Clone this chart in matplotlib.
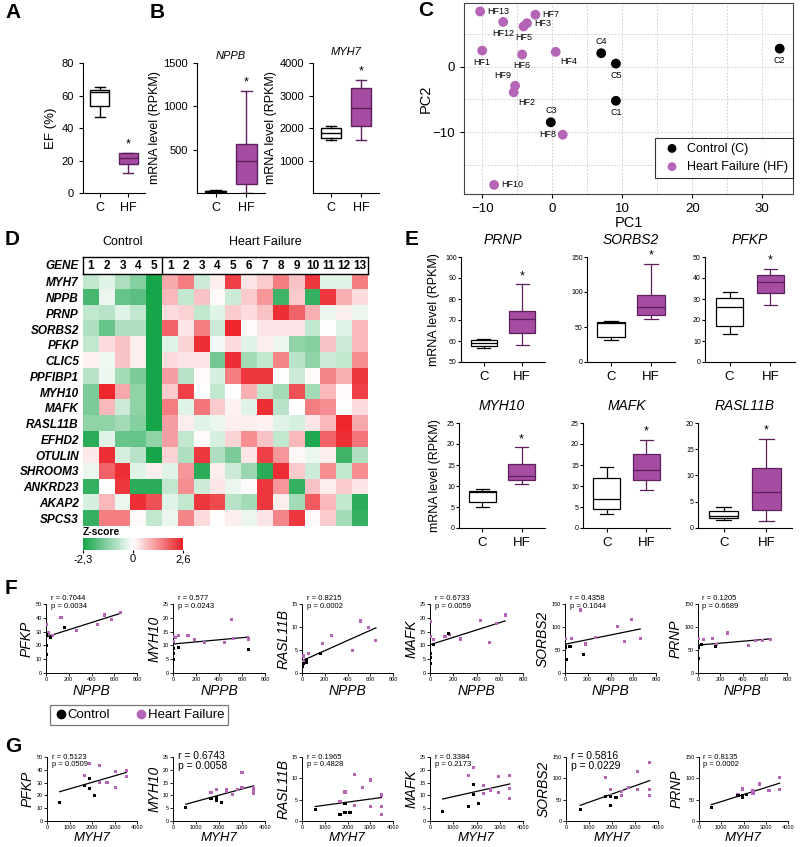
import matplotlib
matplotlib.use("Agg")
import matplotlib.pyplot as plt
import numpy as np
from matplotlib.colors import LinearSegmentedColormap, TwoSlopeNorm
from matplotlib.lines import Line2D

plt.rcParams['font.family'] = ['Liberation Sans', 'DejaVu Sans']

# ---------------- data ----------------
# box stats: whislo, q1, median, q3, whishi
ef_c = [47, 53.8, 62, 63.5, 65]
ef_hf = [12.6, 18.1, 21.3, 24.7, 24.7]
nppb_c = [3, 8, 18, 25, 38]
nppb_hf = [5, 100, 365, 562, 1177]
myh7_c = [1617, 1700, 1853, 1996, 2057]
myh7_hf = [1617, 2057, 2610, 3224, 3490]

e_genes = ['PRNP', 'SORBS2', 'PFKP', 'MYH10', 'MAFK', 'RASL11B']
e_ctrl = [[56.5, 57.5, 59, 60.5, 61], [31, 35.5, 56, 57.5, 58], [13.5, 17, 26, 30.5, 33.5],
          [5, 6.2, 8.5, 8.9, 9.3], [3.4, 4.5, 6.8, 12, 14.5], [1.5, 1.9, 2.2, 3.3, 4]]
e_hf = [[58, 64, 70.5, 74.5, 87], [62, 67, 78, 95, 140], [27, 33, 38, 41.5, 44.5],
        [10.5, 11.4, 12.5, 15.2, 19.2], [9, 11.5, 13.8, 17.6, 21], [1.4, 3.5, 6.8, 11.5, 17]]
e_ylim = [(50, 100), (0, 150), (0, 50), (0, 25), (0, 25), (0, 20)]
e_ystep = [10, 50, 10, 5, 5, 5]

# PCA
pc_names = ['C1', 'C2', 'C3', 'C4', 'C5',
            'HF1', 'HF2', 'HF3', 'HF4', 'HF5', 'HF6', 'HF7', 'HF8', 'HF9', 'HF10', 'HF12', 'HF13']
pc1 = [9.1, 32.5, -0.2, 7.0, 9.1,
       -10.0, -5.5, -3.6, 0.5, -4.1, -4.3, -2.4, 1.5, -5.3, -8.3, -7.0, -10.3]
pc2 = [-5.2, 2.8, -8.5, 2.1, 0.5,
       2.5, -3.9, 6.7, 2.3, 6.2, 1.9, 8.0, -10.4, -2.9, -18.1, 6.9, 8.5]
pc_group = ['C'] * 5 + ['HF'] * 12

# heatmap
heat_genes = ['MYH7', 'NPPB', 'PRNP', 'SORBS2', 'PFKP', 'CLIC5', 'PPFIBP1', 'MYH10',
              'MAFK', 'RASL11B', 'EFHD2', 'OTULIN', 'SHROOM3', 'ANKRD23', 'AKAP2', 'SPCS3']
heat_cols = ['1', '2', '3', '4', '5'] + [str(i) for i in range(1, 14)]
heat_z = [
    [-0.6, -0.3, -0.8, -1.2, -2.3, 1.0, 1.5, -0.5, 0.2, 2.2, 0.3, 0.6, 1.5, 0.7, 2.3, -0.3, -0.3, 1.5],
    [-1.8, -0.2, -1.5, -1.6, -2.3, 0.8, -0.6, 0.7, 0.05, -0.5, 0.6, 1.2, -1.9, 0.6, -2.0, 2.3, 0.9, 0.4],
    [-0.6, -0.7, -0.3, -0.6, -2.3, 0.4, 0.5, -0.6, -0.3, 0.6, 0.4, 0.7, 2.4, 1.8, 0.9, -0.2, 0.2, -0.2],
    [-0.8, -1.5, -0.8, -0.8, -2.3, 1.8, 0.3, 1.5, -0.5, 2.5, 0.05, 0.3, 0.3, 0.3, -0.6, 0.0, -0.3, 0.8],
    [-0.6, 0.4, 0.7, 0.2, -2.3, -0.3, 0.5, 2.4, -0.1, 0.4, -0.3, 0.2, -0.2, -1.1, -1.2, 0.7, -0.5, 0.8],
    [0.15, -0.15, 0.7, 0.2, -2.3, 0.4, 0.3, 0.3, -1.4, 2.4, -0.9, -0.6, 1.4, -0.7, -1.1, -0.5, -0.6, 1.3],
    [-0.7, -0.2, -0.9, -1.3, -2.3, 1.1, -0.7, 0.05, -0.4, 1.5, 2.3, 2.3, 0.0, -0.5, 0.05, 1.4, 0.9, 2.3],
    [-1.3, 2.5, 1.0, -1.1, -2.3, 0.6, 2.2, 0.0, -0.6, 0.0, 0.9, -0.6, -0.9, 2.0, -0.9, 0.8, 0.05, 2.2],
    [-1.3, 0.8, -0.5, -1.1, -2.3, 1.5, -0.3, 1.6, 0.6, 0.15, -0.3, 2.4, -0.7, 0.0, 1.5, 1.3, 0.0, 0.4],
    [-1.1, -1.1, -0.9, -1.2, -2.3, 1.1, 0.2, -0.3, -0.2, 0.2, 0.2, 0.15, -0.3, -0.4, 0.3, 0.8, 2.5, 1.0],
    [-2.1, -0.3, -1.5, -1.5, -1.1, 1.1, -0.6, 0.05, -0.4, 0.5, 1.3, 0.7, -0.6, 0.8, -2.2, 1.8, 2.4, 1.6],
    [0.25, 2.4, -0.4, -0.7, -2.3, 0.5, -0.8, 2.3, -0.8, -1.3, 0.3, 2.2, 1.2, 0.1, -0.2, 0.2, -1.9, -0.8],
    [-0.2, 1.8, 2.4, -0.3, 0.2, -0.3, 1.2, -2.1, 0.2, -0.5, -1.0, -2.1, 2.4, 0.6, -0.5, 1.3, -0.6, 1.3],
    [-2.0, 0.0, 2.3, -2.1, -2.1, -0.6, 1.3, -0.5, 0.3, -0.2, 0.05, 2.3, 1.2, -2.0, 0.7, 0.2, 0.6, 0.3],
    [-0.4, 0.8, -0.2, 2.4, 2.0, -0.3, -0.6, 2.3, 2.1, -0.7, -0.9, 2.3, 0.2, -0.9, 1.9, 0.8, -0.6, -2.1],
    [-2.0, 1.5, 1.5, 0.05, -0.6, -0.2, 1.4, 0.4, 0.0, 0.2, -0.2, 0.3, 1.4, 2.3, 0.05, 0.6, -0.9, -2.0],
]

# correlation scatter, (NPPB, gene) and (MYH7, gene)
pfkp_nppb_c = [(0, 27.5), (41, 26), (5, 20), (5, 13.5), (161, 33)]
pfkp_nppb_hf = [(5, 35), (55, 27), (132, 40), (270, 31), (451, 35), (518, 42), (577, 38.5), (656, 44), (20, 29)]
myh10_nppb_c = [(0, 8.8), (5, 7.0), (5, 5.0), (49, 9.4), (656, 8.5)]
myh10_nppb_hf = [(6, 13.3), (49, 13.5), (130, 13.5), (6, 11.4), (188, 12.0), (272, 11.0), (450, 11.0),
                 (526, 12.5), (656, 12.3), (505, 19.5), (20, 12.8)]
rasl_nppb_c = [(9, 2.1), (38, 3.0), (160, 4.3), (38, 2.2), (5, 1.5)]
rasl_nppb_hf = [(10, 3.7), (15, 2.4), (58, 4.2), (183, 6.5), (262, 8.1), (445, 4.9), (515, 11.3),
                (581, 9.8), (650, 7.1), (5, 1.4)]
mafk_nppb_c = [(5, 3.6), (5, 5.5), (5, 7.2), (29, 10.2), (160, 14.3)]
mafk_nppb_hf = [(6, 18.7), (29, 12.1), (129, 13.1), (171, 14.0), (266, 12.3), (437, 19.0), (509, 11.0),
                (571, 18.0), (646, 21.0), (6, 13.3)]
sorbs2_nppb_c = [(6, 57.6), (6, 55), (15, 30.3), (44, 57.6), (163, 40.2)]
sorbs2_nppb_hf = [(6, 75.8), (59, 75.8), (133, 137), (178, 63), (267, 78), (459, 101), (524, 68),
                  (587, 116), (661, 75.8)]
prnp_nppb_c = [(0, 58.5), (6, 32.3), (30, 62.3), (157, 57), (6, 56)]
prnp_nppb_hf = [(6, 75), (50, 72), (133, 75), (267, 87), (453, 60), (519, 71.3), (578, 71.3),
                (652, 73.5), (170, 62)]

pfkp_myh7_c = [(560, 14.6), (1671, 28), (1893, 33), (1893, 25.4), (2102, 19.9)]
pfkp_myh7_hf = [(1671, 35.2), (1893, 44.7), (2338, 43.2), (2338, 30), (2667, 30), (3036, 38.8),
                (3036, 26.3), (3524, 39.4), (3524, 35.1)]
myh10_myh7_c = [(560, 5.2), (1650, 8.8), (1890, 9.1), (1890, 8.2), (2100, 7.3)]
myh10_myh7_hf = [(1650, 11.0), (1890, 12.3), (2330, 11.7), (2330, 12.3), (2600, 10.5), (3000, 18.9),
                 (3000, 13.1), (3500, 13.0), (3500, 11.7), (3500, 10.8), (2800, 12.3)]
rasl_myh7_c = [(581, 2.7), (1671, 1.55), (1890, 4.1), (1890, 2.0), (2108, 2.0)]
rasl_myh7_hf = [(1671, 4.5), (1890, 6.8), (2326, 10.9), (2326, 3.7), (2660, 7.8), (3009, 9.6),
                (3009, 3.5), (3488, 6.1), (3488, 3.5), (3488, 1.55)]
mafk_myh7_c = [(543, 3.6), (1643, 5.5), (1857, 14.2), (1857, 10.2), (2071, 6.8)]
mafk_myh7_hf = [(1643, 17.6), (1857, 20.8), (2286, 14.0), (2286, 10.6), (2600, 12.1), (2957, 17.3),
                (2957, 11.2), (3430, 17.6), (3430, 12.8), (3430, 8.9)]
sorbs2_myh7_c = [(619, 28), (1727, 56.7), (1942, 56.7), (1942, 37.3), (2173, 54.4)]
sorbs2_myh7_hf = [(1727, 101), (1942, 74.6), (1942, 60.6), (2417, 68.4), (2417, 60.6), (2705, 77.7),
                  (3094, 116.6), (3094, 74.6), (3640, 136.8), (3640, 74.6), (3640, 60.6)]
prnp_myh7_c = [(554, 31.6), (1946, 59.2), (1946, 55.2), (2126, 61.6), (1751, 59.2)]
prnp_myh7_hf = [(1751, 61.6), (1946, 75), (2425, 71), (2425, 64), (2725, 86.8), (3144, 71),
                (3623, 101), (3623, 73.4)]

corr_genes = ['PFKP', 'MYH10', 'RASL11B', 'MAFK', 'SORBS2', 'PRNP']
corr_ymax = [50, 25, 15, 25, 150, 150]
corr_ystep = [10, 5, 5, 5, 50, 50]
f_data = [(pfkp_nppb_c, pfkp_nppb_hf), (myh10_nppb_c, myh10_nppb_hf), (rasl_nppb_c, rasl_nppb_hf),
          (mafk_nppb_c, mafk_nppb_hf), (sorbs2_nppb_c, sorbs2_nppb_hf), (prnp_nppb_c, prnp_nppb_hf)]
g_data = [(pfkp_myh7_c, pfkp_myh7_hf), (myh10_myh7_c, myh10_myh7_hf), (rasl_myh7_c, rasl_myh7_hf),
          (mafk_myh7_c, mafk_myh7_hf), (sorbs2_myh7_c, sorbs2_myh7_hf), (prnp_myh7_c, prnp_myh7_hf)]
f_stats = ['r = 0.7044\np = 0.0034', 'r = 0.577\np = 0.0243', 'r = 0.8215\np = 0.0002',
           'r = 0.6733\np = 0.0059', 'r = 0.4358\np = 0.1044', 'r = 0.1205\np = 0.6689']
g_stats = ['r = 0.5123\np = 0.0509', 'r = 0.6743\np = 0.0058', 'r = 0.1965\np = 0.4828',
           'r = 0.3384\np = 0.2173', 'r = 0.5816\np = 0.0229', 'r = 0.8135\np = 0.0002']

# ---------------- figure ----------------
W, H = 800, 847
fig = plt.figure(figsize=(8, 8.47), dpi=100)

PURPLE = '#a64ca2'
PEDGE = '#5e205c'
DOT = '#b565b5'


def px_axes(x0, y0, x1, y1):
    return fig.add_axes([x0 / W, 1 - y1 / H, (x1 - x0) / W, (y1 - y0) / H])


def letter(x, y, s):
    fig.text(x / W, 1 - y / H, s, fontsize=15, fontweight='bold', va='center', ha='left')


def gp_style(ax, fs=8):
    ax.spines['top'].set_visible(False)
    ax.spines['right'].set_visible(False)
    ax.tick_params(direction='out', length=3, width=0.8, labelsize=fs)


def box_panel(ax, c, hf, ylim, yticks, tick_fs=8, lab_fs=9, star_fs=9, lw=1.0):
    stats = []
    for s in (c, hf):
        stats.append(dict(whislo=s[0], q1=s[1], med=s[2], q3=s[3], whishi=s[4], fliers=[]))
    art = ax.bxp(stats, positions=[1, 2], widths=0.68, patch_artist=True, showfliers=False,
                 capwidths=0.34,
                 boxprops=dict(linewidth=lw), whiskerprops=dict(linewidth=lw),
                 capprops=dict(linewidth=lw), medianprops=dict(linewidth=lw, color='black'))
    art['boxes'][0].set_facecolor('white')
    art['boxes'][0].set_edgecolor('black')
    art['boxes'][1].set_facecolor(PURPLE)
    art['boxes'][1].set_edgecolor(PEDGE)
    for k in ('whiskers', 'caps'):
        for ln in art[k][2:]:
            ln.set_color(PEDGE)
    art['medians'][1].set_color(PEDGE)
    ax.set_xlim(0.4, 2.6)
    ax.set_ylim(*ylim)
    ax.set_yticks(yticks)
    ax.set_xticks([1, 2])
    ax.set_xticklabels(['C', 'HF'], fontsize=lab_fs)
    gp_style(ax, tick_fs)
    ax.tick_params(axis='x', labelsize=lab_fs, length=3)
    span = ylim[1] - ylim[0]
    ax.text(2, hf[4] + 0.02 * span, '*', ha='center', va='bottom', fontsize=star_fs)


# ---- A ----
letter(5, 13, 'A')
axA = px_axes(83, 63, 145, 193)
box_panel(axA, ef_c, ef_hf, (0, 80), [0, 20, 40, 60, 80])
axA.set_ylabel('EF (%)', fontsize=9.5, labelpad=3)

# ---- B ----
letter(150, 13, 'B')
axB1 = px_axes(197, 63, 265, 193)
box_panel(axB1, nppb_c, nppb_hf, (0, 1500), [500, 1000, 1500])
axB1.set_ylabel('mRNA level (RPKM)', fontsize=9, labelpad=2)
axB1.set_title('NPPB', fontsize=8, style='italic', pad=3)
axB2 = px_axes(313, 63, 379, 193)
box_panel(axB2, myh7_c, myh7_hf, (0, 4000), [1000, 2000, 3000, 4000])
axB2.set_ylabel('mRNA level (RPKM)', fontsize=9, labelpad=2)
axB2.set_title('MYH7', fontsize=8, style='italic', pad=6)

# ---- C ----
letter(418, 11, 'C')
axC = px_axes(464, 3, 793, 194)
for g, col, lab in (('C', 'black', 'Control (C)'), ('HF', DOT, 'Heart Failure (HF)')):
    xs = [x for x, gg in zip(pc1, pc_group) if gg == g]
    ys = [y for y, gg in zip(pc2, pc_group) if gg == g]
    axC.scatter(xs, ys, s=50, color=col, zorder=3, label=lab, edgecolors='none')
label_place = {'below': ((0, -5), 'center', 'top'), 'above': ((0, 5), 'center', 'bottom'),
               'right': ((5, 0), 'left', 'center'), 'left': ((-5, 0), 'right', 'center'),
               'belowright': ((3, -4), 'left', 'top'), 'aboveleft': ((-3, 4), 'right', 'bottom')}
pc_place = ['below', 'below', 'above', 'above', 'below',
            'below', 'belowright', 'right', 'belowright', 'below', 'below', 'right', 'left',
            'aboveleft', 'right', 'below', 'right']
for n, x, y, p in zip(pc_names, pc1, pc2, pc_place):
    off, ha, va = label_place[p]
    axC.annotate(n, (x, y), xytext=off, textcoords='offset points', ha=ha, va=va, fontsize=6.5)
axC.set_xlim(-12.6, 34.4)
axC.set_ylim(-19.5, 9.8)
axC.set_xticks([-10, 0, 10, 20, 30])
axC.set_yticks([0, -10])
axC.set_xticks(np.arange(-10, 35, 5), minor=True)
axC.set_yticks(np.arange(-15, 10, 5), minor=True)
axC.grid(which='both', linestyle=(0, (2, 2)), color='#c8c8c8', linewidth=0.6)
axC.set_axisbelow(True)
axC.tick_params(which='minor', length=0)
axC.tick_params(which='major', length=3, labelsize=9.5)
for sp in axC.spines.values():
    sp.set_color('#444444')
axC.set_xlabel('PC1', fontsize=10.5, labelpad=1)
axC.set_ylabel('PC2', fontsize=10.5, labelpad=0)
legC = axC.legend(loc='lower right', bbox_to_anchor=(1.0, 0.084), borderaxespad=0, fontsize=9,
                  frameon=True, fancybox=False, edgecolor='black', handletextpad=0.2,
                  borderpad=0.4, labelspacing=0.5, markerscale=0.9)
legC.get_frame().set_linewidth(0.8)

# ---- D ----
letter(5, 239, 'D')
axD = px_axes(83, 274, 368, 526)
cmap = LinearSegmentedColormap.from_list('gwr', ['#17a54a', '#ffffff', '#ec1f26'])
norm = TwoSlopeNorm(vmin=-2.3, vcenter=0, vmax=2.6)
im = axD.imshow(np.array(heat_z), cmap=cmap, norm=norm, aspect='auto', interpolation='nearest')
axD.set_yticks(range(len(heat_genes)))
axD.set_yticklabels(heat_genes, fontsize=8.5, fontweight='bold', style='italic')
axD.set_xticks([])
axD.tick_params(length=0, pad=3)
for sp in axD.spines.values():
    sp.set_visible(False)
for i, c in enumerate(heat_cols):
    axD.text(i, -1.0, c, ha='center', va='center', fontsize=8.5, fontweight='bold', clip_on=False)
axD.text(-0.75, -1.0, 'GENE', ha='right', va='center', fontsize=8.5, fontweight='bold',
         style='italic', clip_on=False)
axD.plot([-0.5, 17.5], [-1.55, -1.55], color='black', lw=1, clip_on=False)
axD.plot([-0.5, 17.5], [-0.5, -0.5], color='black', lw=1, clip_on=False)
for xv in (-0.5, 4.5, 17.5):
    axD.plot([xv, xv], [-1.55, -0.5], color='black', lw=1, clip_on=False)
axD.text(2, -2.15, 'Control', ha='center', va='bottom', fontsize=9, clip_on=False)
axD.text(11, -2.15, 'Heart Failure', ha='center', va='bottom', fontsize=9, clip_on=False)
axD.set_ylim(len(heat_genes) - 0.5, -0.5)

cax = px_axes(83, 538, 183, 550)
cb = fig.colorbar(im, cax=cax, orientation='horizontal')
cb.set_ticks([-2.3, 0, 2.6])
cb.set_ticklabels(['-2,3', '0', '2,6'])
cb.ax.tick_params(labelsize=8, length=2, pad=1)
cb.outline.set_visible(False)
fig.text(83 / W, 1 - 532 / H, 'Z-score', fontsize=7.5, fontweight='bold', va='center', ha='left')

# ---- E ----
letter(405, 239, 'E')
e_boxes = [(461, 257, 545, 362), (587, 257, 675, 362), (705, 257, 795, 362),
           (459, 423, 545, 528), (583, 423, 670, 528), (698, 423, 792, 528)]
for k, (g, bb) in enumerate(zip(e_genes, e_boxes)):
    ax = px_axes(*bb)
    lo, hi = e_ylim[k]
    box_panel(ax, e_ctrl[k], e_hf[k], e_ylim[k], np.arange(lo, hi + 0.1, e_ystep[k]),
              tick_fs=5, lab_fs=9.5, star_fs=9, lw=0.9)
    ax.set_title(g, fontsize=10, style='italic', pad=9)
    ax.tick_params(axis='y', length=2, pad=1)
    if k in (0, 3):
        ax.set_ylabel('mRNA level (RPKM)', fontsize=9, labelpad=4)

# ---- F & G ----
letter(5, 589, 'F')
letter(5, 746, 'G')
f_boxes = [(46, 604, 137), (173, 604, 265), (302, 604, 393), (430, 604, 523), (565, 604, 656), (698, 604, 787)]
g_boxes = [(47, 757, 137), (173, 757, 265), (302, 757, 393), (430, 757, 523), (566, 757, 658), (699, 757, 788)]
big_stats = [1, 4]


def corr_panel(ax, ctrl, hf, xmax, xstep, gene, xlab, ymax, ystep, stat, stat_fs, stat_y, xfs=10):
    cx, cy = zip(*ctrl)
    hx, hy = zip(*hf)
    ax.scatter(hx, hy, s=5, marker='s', color=DOT, edgecolors='none', zorder=3)
    ax.scatter(cx, cy, s=5, marker='s', color='black', edgecolors='none', zorder=3)
    allx = np.array(cx + hx, dtype=float)
    ally = np.array(cy + hy, dtype=float)
    m, b = np.polyfit(allx, ally, 1)
    xx = np.array([allx.min(), allx.max()])
    ax.plot(xx, m * xx + b, color='black', lw=0.9)
    ax.set_xlim(0, xmax)
    ax.set_ylim(0, ymax)
    ax.set_xticks(np.arange(0, xmax + 1, xstep))
    ax.set_yticks(np.arange(0, ymax + 0.1, ystep))
    gp_style(ax, 4)
    ax.tick_params(length=2, width=0.6, pad=1)
    for sp in ('left', 'bottom'):
        ax.spines[sp].set_linewidth(0.7)
    ax.set_ylabel(gene, fontsize=10, style='italic', labelpad=1)
    ax.set_xlabel(xlab, fontsize=xfs, style='italic', labelpad=1)
    ax.text(0.05, stat_y, stat, transform=ax.transAxes, fontsize=stat_fs, va='top', ha='left',
            linespacing=1.1)


for k in range(6):
    x0, y0, x1 = f_boxes[k]
    ax = px_axes(x0, y0, x1, 673)
    corr_panel(ax, f_data[k][0], f_data[k][1], 800, 200, corr_genes[k], 'NPPB',
               corr_ymax[k], corr_ystep[k], f_stats[k], 5.5, 1.13)
    x0, y0, x1 = g_boxes[k]
    ax = px_axes(x0, y0, x1, 821)
    big = k in big_stats
    corr_panel(ax, g_data[k][0], g_data[k][1], 4000, 1000, corr_genes[k], 'MYH7',
               corr_ymax[k], corr_ystep[k], g_stats[k], 7.5 if big else 5.5, 1.1 if big else 1.05,
               xfs=9.5)

# legend between F and G
leg_ax = px_axes(50, 702, 228, 728)
leg_ax.axis('off')
handles = [Line2D([], [], marker='o', color='black', linestyle='none', markersize=6),
           Line2D([], [], marker='o', color=DOT, linestyle='none', markersize=6)]
lg = leg_ax.legend(handles, ['Control', 'Heart Failure'], loc='center', ncol=2, mode='expand',
                   bbox_to_anchor=(0, 0, 1, 1), borderaxespad=0, frameon=True, fancybox=False,
                   edgecolor='#555555', fontsize=9.5, handletextpad=0.0, columnspacing=1.0,
                   handlelength=1.0, borderpad=0.3)
lg.get_frame().set_linewidth(0.9)

fig.savefig('out.png', dpi=100)
